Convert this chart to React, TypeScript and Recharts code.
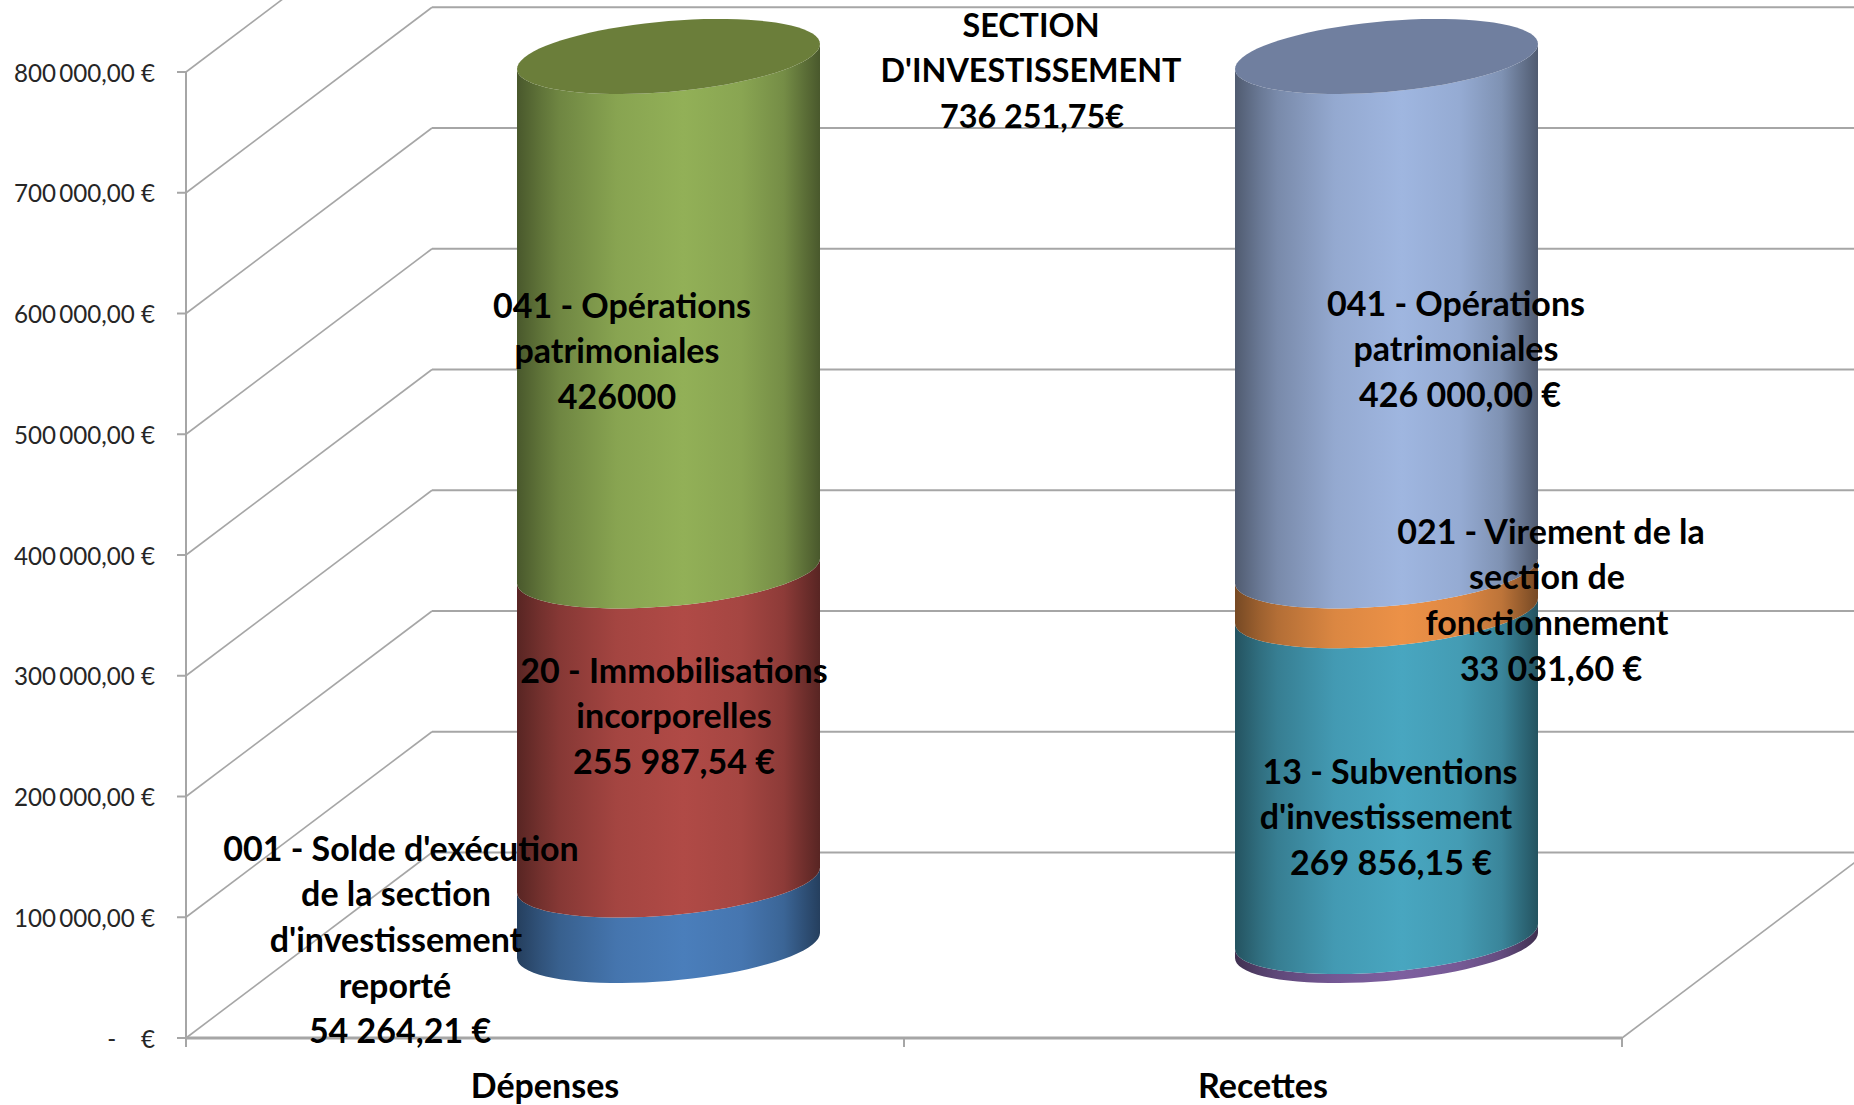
import React from 'react';
import { ComposedChart, Bar, XAxis, YAxis, CartesianGrid } from 'recharts';

const categories = ['Dépenses', 'Recettes'];
const solde001 = [54264.21, 0];
const immo20 = [255987.54, 0];
const ope041Dep = [426000, 0];
const autres = [0, 7364];
const subv13 = [0, 269856.15];
const vir021 = [0, 33031.6];
const ope041Rec = [0, 426000];
const yTicks = [0, 100000, 200000, 300000, 400000, 500000, 600000, 700000, 800000];

const data = categories.map((name, i) => ({
  name,
  solde001: solde001[i],
  immo20: immo20[i],
  ope041Dep: ope041Dep[i],
  autres: autres[i],
  subv13: subv13[i],
  vir021: vir021[i],
  ope041Rec: ope041Rec[i],
}));

const WIDTH = 1854;
const HEIGHT = 1105;
const DEPTH_X = 246;
const DEPTH_Y = 185.5;
const GRID = '#a6a6a6';
const FONT = 'Lato, "Open Sans", sans-serif';

const shade = (hex: string, f: number) => {
  const n = parseInt(hex.slice(1), 16);
  const c = [(n >> 16) & 255, (n >> 8) & 255, n & 255].map((v) => Math.round(v * f));
  return `rgb(${c[0]},${c[1]},${c[2]})`;
};

const STOPS: [number, number][] = [
  [0, 0.5], [0.08, 0.66], [0.14, 0.76], [0.33, 0.93], [0.55, 1], [0.74, 0.94], [0.88, 0.8], [1, 0.5],
];

// front half of the tilted ellipse, left to right when reversed is false
const arc = (cx: number, cy: number, a: number, b: number, tilt: number, reversed: boolean) => {
  const pts: string[] = [];
  for (let i = 0; i <= 40; i++) {
    const t = reversed ? (Math.PI * i) / 40 : Math.PI - (Math.PI * i) / 40;
    const px = cx + a * Math.cos(t);
    const py = cy + b * Math.sin(t) + tilt * a * Math.cos(t);
    pts.push(`${px.toFixed(1)} ${py.toFixed(1)}`);
  }
  return pts;
};

const Cylinder = (props: any) => {
  const { x, y, width, height, color, topColor, id } = props;
  if (!height || height <= 0) return null;
  const a = width / 2;
  const b = 35.4;
  const tilt = -0.0825;
  const cx = x + a + DEPTH_X / 2;
  const top = y - 92.5;
  const bottom = y + height - 92.5;
  const d = `M${arc(cx, top, a, b, tilt, false).join('L')}L${arc(cx, bottom, a, b, tilt, true).join('L')}Z`;
  const full: string[] = [];
  for (let i = 0; i <= 80; i++) {
    const t = (2 * Math.PI * i) / 80;
    full.push(`${(cx + a * Math.cos(t)).toFixed(1)} ${(top + b * Math.sin(t) + tilt * a * Math.cos(t)).toFixed(1)}`);
  }
  return (
    <g>
      <defs>
        <linearGradient id={id} x1="0" x2="1" y1="0" y2="0">
          {STOPS.map(([o, f]) => (
            <stop key={o} offset={o} stopColor={shade(color, f)} />
          ))}
        </linearGradient>
      </defs>
      <path d={d} fill={`url(#${id})`} />
      {topColor && <path d={`M${full.join('L')}Z`} fill={topColor} />}
    </g>
  );
};

const moneyLabel = (v: number) => {
  if (v === 0) return '-\u00a0\u00a0\u00a0\u00a0€';
  return `${String(v / 1000)}\u2009000,00\u00a0€`;
};

const WallLine = (props: any) => {
  const { x1, y1 } = props;
  return (
    <g>
      <line x1={x1} y1={y1} x2={x1 + DEPTH_X} y2={y1 - DEPTH_Y} stroke={GRID} strokeWidth={1.6} />
      <line x1={x1 + DEPTH_X} y1={y1 - DEPTH_Y} x2={WIDTH} y2={y1 - DEPTH_Y} stroke={GRID} strokeWidth={2} />
    </g>
  );
};

const ValueTick = (props: any) => {
  const { y, payload } = props;
  return (
    <text x={155} y={y} textAnchor="end" dominantBaseline="central" fontFamily={FONT} fontSize={24.2} fill="#262626">
      {moneyLabel(payload.value)}
    </text>
  );
};

const NOTES: { lines: string[]; x: number[]; y: number; size?: number }[] = [
  { lines: ['SECTION', "D'INVESTISSEMENT", '736 251,75€'], x: [1031, 1031, 1032], y: 24, size: 32.3 },
  { lines: ['041 - Opérations', 'patrimoniales', '426000'], x: [622, 617, 617], y: 304 },
  { lines: ['20 - Immobilisations', 'incorporelles', '255 987,54 €'], x: [674, 674, 674], y: 669 },
  { lines: ["001 - Solde d'exécution", 'de la section', "d'investissement", 'reporté', '54 264,21 €'], x: [401, 396, 396, 395, 400], y: 847 },
  { lines: ['041 - Opérations', 'patrimoniales', '426 000,00 €'], x: [1456, 1456, 1460], y: 302 },
  { lines: ['021 - Virement de la', 'section de', 'fonctionnement', '33 031,60 €'], x: [1551, 1547, 1547, 1551], y: 530 },
  { lines: ['13 - Subventions', "d'investissement", '269 856,15 €'], x: [1390, 1386, 1391], y: 770 },
];

const BAND = (WIDTH - 232 - 186) / 2;

// axis ticks sit above the bars, so the free-floating notes go in here too
const CategoryTick = (props: any) => {
  const { x, y, payload, index } = props;
  const marks = index === 0 ? [x - BAND / 2, x + BAND / 2] : [x + BAND / 2];
  return (
    <g>
      {marks.map((m) => (
        <line key={m} x1={m} x2={m} y1={y} y2={y + 9} stroke={GRID} strokeWidth={2} />
      ))}
      {index === 1 && (
        <line x1={x + BAND / 2} y1={y} x2={x + BAND / 2 + DEPTH_X} y2={y - DEPTH_Y} stroke={GRID} strokeWidth={1.6} />
      )}
      <text x={x} y={1084} textAnchor="middle" dominantBaseline="central" fontFamily={FONT} fontWeight={700} fontSize={34} fill="#000">
        {payload.value}
      </text>
      {index === 1 &&
        NOTES.flatMap((n, i) =>
          n.lines.map((line, j) => (
            <text
              key={`${i}-${j}`}
              x={n.x[j]}
              y={n.y + j * 45.7}
              textAnchor="middle"
              dominantBaseline="central"
              fontFamily={FONT}
              fontWeight={700}
              fontSize={n.size ?? 34}
              fill="#000"
            >
              {line}
            </text>
          )),
        )}
    </g>
  );
};

const series = [
  { key: 'solde001', color: '#4a7ebb' },
  { key: 'immo20', color: '#b04a46' },
  { key: 'ope041Dep', color: '#92b057', top: '#6b7e3a' },
  { key: 'autres', color: '#7d5f9f' },
  { key: 'subv13', color: '#48a6c0' },
  { key: 'vir021', color: '#ec9147' },
  { key: 'ope041Rec', color: '#9fb6e0', top: '#707f9f' },
];

export default function App() {
  return (
    <div style={{ position: 'absolute', left: 0, top: 0, width: WIDTH, height: HEIGHT, overflow: 'hidden', background: '#fff' }}>
      <ComposedChart
        width={WIDTH}
        height={HEIGHT}
        data={data}
        margin={{ top: 72, right: 232, bottom: 0, left: 0 }}
      >
        <CartesianGrid vertical={false} horizontal={(p: any) => <WallLine key={p.key} {...p} />} />
        <YAxis
          type="number"
          domain={[0, 800000]}
          ticks={yTicks}
          interval={0}
          width={186}
          axisLine={{ stroke: GRID, strokeWidth: 2 }}
          tickLine={{ stroke: GRID, strokeWidth: 2 }}
          tickSize={9}
          tick={<ValueTick />}
        />
        <XAxis
          dataKey="name"
          height={67}
          axisLine={{ stroke: GRID, strokeWidth: 3 }}
          tickLine={false}
          tickSize={0}
          tickMargin={0}
          tick={<CategoryTick />}
          interval={0}
        />
        {series.map((s) => (
          <Bar
            key={s.key}
            dataKey={s.key}
            stackId="a"
            barSize={303}
            isAnimationActive={false}
            shape={(p: any) => <Cylinder {...p} color={s.color} topColor={s.top} id={`grad-${s.key}-${p.index}`} />}
          />
        ))}
      </ComposedChart>
    </div>
  );
}
